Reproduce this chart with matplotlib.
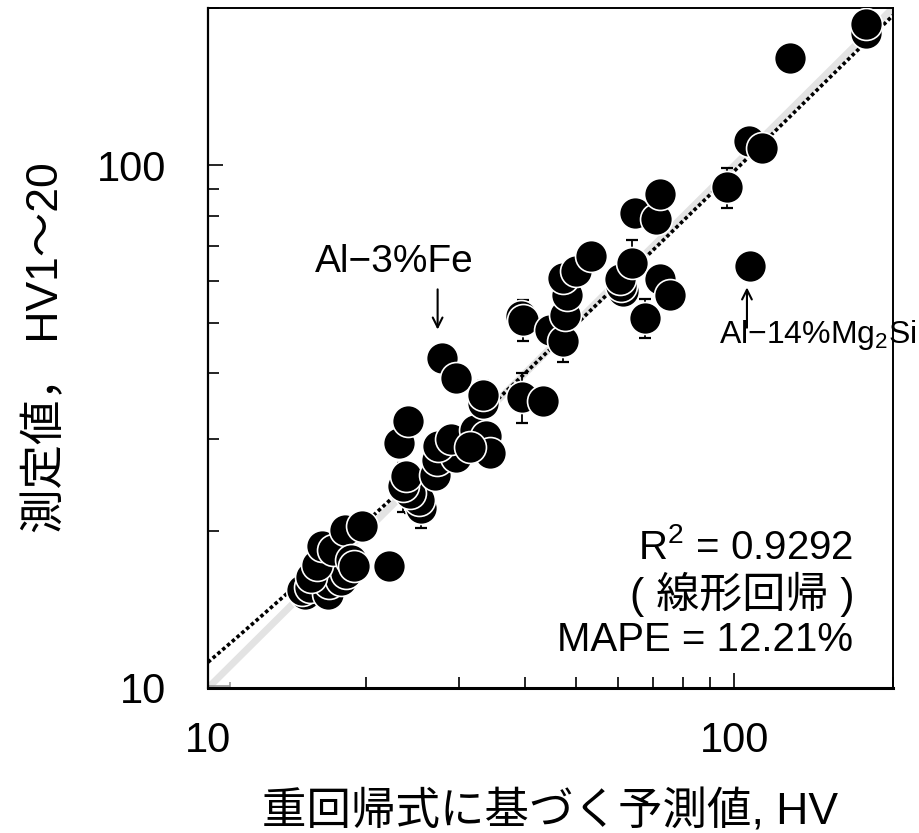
import numpy as np
import matplotlib
matplotlib.use("Agg")
import matplotlib.pyplot as plt
from matplotlib.ticker import NullFormatter

plt.rcParams['font.family'] = ['Liberation Sans', 'Noto Sans CJK JP', 'DejaVu Sans']
plt.rcParams['mathtext.fontset'] = 'custom'
plt.rcParams['mathtext.rm'] = 'Liberation Sans'
plt.rcParams['mathtext.it'] = 'Liberation Sans'
plt.rcParams['mathtext.default'] = 'regular'

# predicted hardness (multiple regression), HV
predicted = [15.3, 15.1, 15.6, 16.1, 16.9, 17.0, 17.9, 18.3, 15.7, 16.1,
             16.5, 17.3, 18.2, 19.6, 18.7, 18.9, 22.1,
             25.4, 25.2, 24.2, 23.5, 23.8, 27.0, 27.2, 29.6, 27.3, 29.0,
             32.1, 33.8, 34.3, 23.1, 24.0, 33.3, 31.4,
             27.8, 29.6, 33.3, 39.4, 43.3, 39.3, 39.7, 44.6, 47.3, 47.6,
             48.0, 47.3, 50.1, 53.5, 61.4, 61.0, 60.6, 63.8, 72.2, 75.4,
             67.6, 64.7, 71.1, 72.2, 96.6, 106.6, 112.6, 127.5, 177.8, 177.8,
             107.0]
# measured HV1~20
measured = [15.1, 15.4, 15.6, 16.6, 15.1, 15.9, 16.1, 16.6, 16.3, 17.2,
            18.7, 18.4, 20.1, 20.4, 17.6, 17.1, 17.1,
            22.1, 22.9, 23.6, 24.3, 25.4, 25.6, 27.3, 27.7, 29.0, 29.9,
            31.2, 30.3, 28.2, 29.4, 32.4, 35.1, 28.9,
            42.8, 39.2, 36.4, 36.1, 35.4, 51.5, 50.7, 48.5, 46.1, 51.8,
            56.6, 60.9, 62.7, 67.0, 57.4, 58.7, 60.5, 65.1, 60.5, 56.6,
            51.1, 81.2, 78.8, 88.0, 90.7, 111.3, 108.1, 160.3, 179.5, 186.2,
            64.1]
# standard deviation of measurement (0 = not shown)
measured_err = [0, 0, 0, 0, 0, 0, 0, 0, 0, 0,
                0, 0, 0, 0, 0, 0, 0,
                1.9, 0, 2.0, 2.6, 0, 0, 0, 0, 0, 0,
                0, 0, 0, 0, 0, 0, 0,
                0, 0, 2.3, 3.9, 0, 0, 4.5, 0, 4.1, 0,
                0, 0, 0, 0, 0, 0, 0, 7.0, 0, 0,
                4.3, 0, 0, 0, 8.0, 0, 0, 0, 0, 0,
                0]

fit_slope = 0.96
fit_intercept = 1.6
r2_text = 'R$^2$ = 0.9292'
method_text = '( 線形回帰 )'
mape_text = 'MAPE = 12.21%'

lim = (10, 200)

fig = plt.figure(figsize=(9.19, 8.33), dpi=100)
ax = fig.add_axes([0.2263, 0.1741, 0.7454, 0.8163])
ax.set_xscale('log')
ax.set_yscale('log')
ax.set_xlim(*lim)
ax.set_ylim(*lim)

# 1:1 line and regression line
ax.plot(lim, lim, color='#e3e3e3', lw=5, solid_capstyle='butt', zorder=1)
xs = np.geomspace(lim[0], lim[1], 200)
ax.plot(xs, fit_slope * xs + fit_intercept, color='black', lw=2.6,
        linestyle=(0, (1, 0.75)), zorder=2)
ax.errorbar([10.5], [10.1], xerr=[0.5], fmt='none', ecolor='#999999',
            elinewidth=1.2, capsize=3, capthick=1.2, zorder=1)

x = np.array(predicted)
y = np.array(measured)
e = np.array(measured_err)
m = e > 0
ax.errorbar(x[m], y[m], yerr=e[m], fmt='none', ecolor='black',
            elinewidth=1.3, capsize=4.5, capthick=1.6, zorder=3)
ax.plot(x, y, 'o', ms=23, mfc='black', mec='white', mew=1.2,
        linestyle='none', zorder=4)

# annotations
ax.annotate('', xy=(27.3, 48.5), xytext=(27.3, 57.9),
            arrowprops=dict(arrowstyle='->,head_length=0.7,head_width=0.35',
                            color='black', lw=1.5, shrinkA=0, shrinkB=0))
ax.text(22.6, 65.2, 'Al−3%Fe', fontsize=28, ha='center', va='center')
ax.annotate('', xy=(105.6, 58.4), xytext=(105.6, 48.9),
            arrowprops=dict(arrowstyle='->,head_length=0.7,head_width=0.35',
                            color='black', lw=1.5, shrinkA=0, shrinkB=0))
ax.text(93.5, 47.4, 'Al−14%Mg$_2$Si', fontsize=23, ha='left', va='center')

ax.text(0.9416, 0.206, r2_text, transform=ax.transAxes, fontsize=29,
        ha='right', va='center')
ax.text(0.9445, 0.137, method_text, transform=ax.transAxes, fontsize=31,
        ha='right', va='center')
ax.text(0.9416, 0.0706, mape_text, transform=ax.transAxes, fontsize=29,
        ha='right', va='center')

# axes styling
ax.set_xticks([10, 100])
ax.set_xticklabels(['10', '100'])
ax.set_yticks([10, 100])
ax.set_yticklabels(['10', '100'])
ax.xaxis.set_minor_formatter(NullFormatter())
ax.yaxis.set_minor_formatter(NullFormatter())
ax.tick_params(which='both', direction='in', top=False, right=False, width=1.2)
ax.tick_params(which='major', length=11)
ax.tick_params(which='minor', length=8)
ax.tick_params(axis='x', which='major', labelsize=30, pad=24)
ax.tick_params(axis='y', which='major', labelsize=30, pad=30)
ax.spines['left'].set_linewidth(1.6)
ax.spines['bottom'].set_linewidth(2.2)
ax.spines['top'].set_linewidth(1.4)
ax.spines['right'].set_linewidth(1.4)

ax.set_xlabel('重回帰式に基づく予測値, HV', fontsize=32)
ax.set_ylabel('測定値， HV1〜20', fontsize=32)
ax.xaxis.set_label_coords(0.5, -0.15)
ax.yaxis.set_label_coords(-0.205, 0.5)

fig.savefig('out.png', dpi=100)
